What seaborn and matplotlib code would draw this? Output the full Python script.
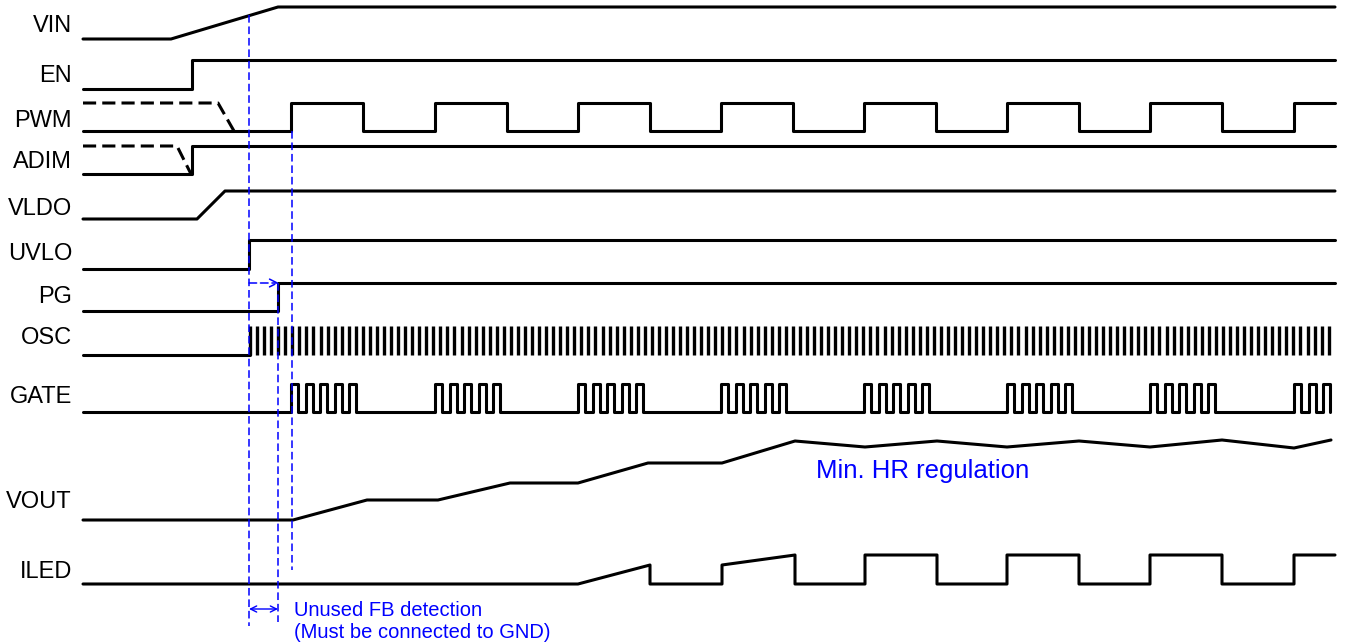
import numpy as np
import pandas as pd
import matplotlib
matplotlib.use("Agg")
import matplotlib.pyplot as plt
import seaborn as sns

sns.set_style("white")
plt.rcParams['font.family'] = ['Liberation Sans', 'DejaVu Sans']

# canvas is laid out in pixel units (y grows downward)
W, H = 1347, 644
X0, X1 = 83, 1335

# signal names and where their labels sit (baseline)
names = ["VIN", "EN", "PWM", "ADIM", "VLDO", "UVLO", "PG", "OSC", "GATE", "VOUT", "ILED"]
label_base = [32, 82, 127, 168, 215, 260, 303, 344, 403, 508, 578]

# simple level signals: breakpoints
vin_x = [X0, 171, 278, X1]
vin_y = [39, 39, 7, 7]
en_x = [X0, 192, 192, X1]
en_y = [89, 89, 60, 60]
adim_x = [X0, 192, 192, X1]
adim_y = [174, 174, 146, 146]
vldo_x = [X0, 197, 225, X1]
vldo_y = [219, 219, 191, 191]
uvlo_x = [X0, 249, 249, X1]
uvlo_y = [269, 269, 240, 240]
pg_x = [X0, 278, 278, X1]
pg_y = [311, 311, 283, 283]

# dashed "don't care" parts of PWM / ADIM
pwm_dash_x = [X0, 218, 234]
pwm_dash_y = [103, 103, 131]
adim_dash_x = [X0, 177, 191]
adim_dash_y = [146, 146, 174]

# PWM square wave
pwm_rise = [291, 435, 578, 721, 864, 1007, 1150, 1294]
pwm_width = 72
pwm_lo, pwm_hi = 131, 103

# GATE bursts follow each PWM high
gate_count = [5, 5, 5, 5, 5, 5, 5, 3]
gate_period, gate_high = 14.5, 7
gate_lo, gate_hi = 412, 384

# OSC clock
osc_start, osc_end, osc_pitch = 250, 1334, 7.05
osc_lo, osc_hi = 355, 326

# VOUT staircase / ripple
vout_x = [X0, 293, 367, 438, 510, 578, 648, 722, 795, 865, 937, 1007, 1079, 1150, 1222, 1294, 1331]
vout_y = [520, 520, 500, 500, 483, 483, 463, 463, 441, 447, 441, 447, 441, 447, 440, 448, 440]

# ILED
iled_x = [X0, 578, 650, 650, 722, 722, 795, 795, 865, 865, 937, 937, 1007, 1007,
          1079, 1079, 1150, 1150, 1222, 1222, 1294, 1294, X1]
iled_y = [584, 584, 565, 584, 584, 565, 555, 584, 584, 555, 555, 584, 584, 555,
          555, 584, 584, 555, 555, 584, 584, 555, 555]


def square(rises, width, lo, hi, end):
    xs, ys = [X0], [lo]
    for r in rises:
        f = r + width
        xs += [r, r]
        ys += [lo, hi]
        if f >= end:
            xs.append(end)
            ys.append(hi)
            return xs, ys
        xs += [f, f]
        ys += [hi, lo]
    xs.append(end)
    ys.append(lo)
    return xs, ys


def gate_wave():
    xs, ys = [X0], [gate_lo]
    for r, n in zip(pwm_rise, gate_count):
        for k in range(n):
            a = r + k * gate_period
            xs += [a, a, a + gate_high, a + gate_high]
            ys += [gate_lo, gate_hi, gate_hi, gate_lo]
    return xs, ys


pwm_x, pwm_y = square(pwm_rise, pwm_width, pwm_lo, pwm_hi, X1)
gate_x, gate_y = gate_wave()

rows = []
for nm, xs, ys in [("VIN", vin_x, vin_y), ("EN", en_x, en_y), ("PWM", pwm_x, pwm_y),
                   ("ADIM", adim_x, adim_y), ("VLDO", vldo_x, vldo_y),
                   ("UVLO", uvlo_x, uvlo_y), ("PG", pg_x, pg_y),
                   ("OSC0", [X0, osc_start], [osc_lo, osc_lo]),
                   ("GATE", gate_x, gate_y), ("VOUT", vout_x, vout_y),
                   ("ILED", iled_x, iled_y)]:
    for i, (x, y) in enumerate(zip(xs, ys)):
        rows.append({"sig": nm, "i": i, "x": x, "y": y})
df = pd.DataFrame(rows)

dash_rows = []
for nm, xs, ys in [("PWM", pwm_dash_x, pwm_dash_y), ("ADIM", adim_dash_x, adim_dash_y)]:
    for i, (x, y) in enumerate(zip(xs, ys)):
        dash_rows.append({"sig": nm, "i": i, "x": x, "y": y})
df_dash = pd.DataFrame(dash_rows)

osc_x = np.arange(osc_start, osc_end, osc_pitch)
df_osc = pd.DataFrame({"sig": np.repeat(np.arange(len(osc_x)), 2),
                       "x": np.repeat(osc_x, 2),
                       "y": np.tile([osc_lo, osc_hi], len(osc_x))})

fig = plt.figure(figsize=(W / 100, H / 100), dpi=100)
ax = fig.add_axes([0, 0, 1, 1])

sns.lineplot(data=df, x="x", y="y", units="sig", estimator=None, sort=False,
             color="black", lw=2.2, ax=ax)
sns.lineplot(data=df_dash, x="x", y="y", units="sig", estimator=None, sort=False,
             color="black", lw=2.2, dashes=False, ax=ax)
for ln in ax.lines[-2:]:
    ln.set_dashes((4.3, 2.0))
sns.lineplot(data=df_osc, x="x", y="y", units="sig", estimator=None, sort=False,
             color="black", lw=2.4, ax=ax)
for ln in ax.lines[-len(osc_x):]:
    ln.set_solid_capstyle("butt")

# blue timing markers
blue = "#0000ff"
for x, y0, y1 in [(249, 15, 626), (278, 283, 622), (292, 131, 570)]:
    ax.plot([x, x], [y0, y1], color=blue, lw=1.1, dashes=(5, 2.5))
ax.annotate("", xy=(279, 283), xytext=(249, 283),
            arrowprops=dict(arrowstyle="->", color=blue, lw=1.1, ls=(0, (5, 2.5)),
                            shrinkA=0, shrinkB=0, mutation_scale=14))
ax.annotate("", xy=(278, 609), xytext=(249, 609),
            arrowprops=dict(arrowstyle="<->", color=blue, lw=1.0,
                            shrinkA=0, shrinkB=0, mutation_scale=11))

ax.text(294, 616, "Unused FB detection", color=blue, fontsize=14.5, va="baseline", ha="left")
ax.text(294, 638, "(Must be connected to GND)", color=blue, fontsize=14.5, va="baseline", ha="left")
ax.text(816, 478, "Min. HR regulation", color=blue, fontsize=18.5, va="baseline", ha="left")

for nm, yb in zip(names, label_base):
    ax.text(72, yb, nm, fontsize=17, ha="right", va="baseline", color="black")

ax.set_xlim(0, W)
ax.set_ylim(H, 0)
ax.set_axis_off()

fig.savefig("out.png", dpi=100, facecolor="white")
